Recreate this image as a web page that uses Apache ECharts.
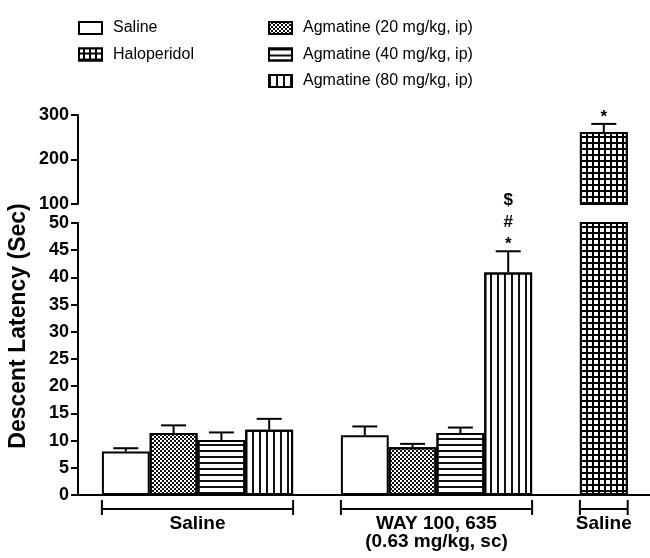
<!DOCTYPE html>
<html>
<head>
<meta charset="utf-8">
<script src="https://cdn.jsdelivr.net/npm/echarts@6/dist/echarts.min.js"></script>
<style>
html, body { margin: 0; padding: 0; background: #fff; }
#main { width: 650px; height: 558px; }
</style>
</head>
<body>
<div id="main"></div>
<script>
var groups = ['Saline', 'WAY 100, 635\n(0.63 mg/kg, sc)', 'Saline'];
var treatments = ['Saline', 'Haloperidol', 'Agmatine (20 mg/kg, ip)', 'Agmatine (40 mg/kg, ip)', 'Agmatine (80 mg/kg, ip)'];

// mean per group, null = not given in that group
var salineMean = [8.0, 11.0, null];
var haloMean   = [null, null, 262];
var agm20Mean  = [11.4, 8.8, null];
var agm40Mean  = [10.1, 11.4, null];
var agm80Mean  = [12.0, 40.9, null];

// SEM (upper half only drawn)
var salineSem = [0.6, 1.6, null];
var haloSem   = [null, null, 18];
var agm20Sem  = [1.4, 0.6, null];
var agm40Sem  = [1.4, 1.0, null];
var agm80Sem  = [2.0, 3.9, null];

// significance marks
var salineMarks = ['', '', ''];
var haloMarks   = ['', '', '*'];
var agm20Marks  = ['', '', ''];
var agm40Marks  = ['', '', ''];
var agm80Marks  = ['', '$\n#\n*', ''];

// broken y axis: lower and upper parts
var lowAxis  = [0, 50, 5];      // min, max, interval
var highAxis = [100, 300, 100];

var FONT = 'Liberation Sans, Arial, sans-serif';

var means = [salineMean, haloMean, agm20Mean, agm40Mean, agm80Mean];
var sems = [salineSem, haloSem, agm20Sem, agm40Sem, agm80Sem];
var marks = [salineMarks, haloMarks, agm20Marks, agm40Marks, agm80Marks];

// fill patterns
var styles = [
  { color: '#fff' },
  { color: '#000', decal: { symbol: 'rect', symbolSize: 1, color: '#fff', dashArrayX: [4, 2], dashArrayY: [4, 2] } },
  { color: '#fff', decal: { symbol: 'rect', symbolSize: 1, color: '#111', dashArrayX: [[2, 2], [0, 2, 2, 0]], dashArrayY: [2, 0] } },
  { color: '#fff', decal: { symbol: 'rect', symbolSize: 1, color: '#111', dashArrayX: [10, 0], dashArrayY: [2, 4] } },
  { color: '#fff', decal: { symbol: 'rect', symbolSize: 1, color: '#111', dashArrayX: [2, 5], dashArrayY: [10, 0] } }
];

// lay bars out in slots, one empty slot between groups
var bars = treatments.map(function () { return []; });
var errs = [];
var spans = [];
var slot = 0;
groups.forEach(function (g, gi) {
  var start = slot;
  treatments.forEach(function (t, ti) {
    var v = means[ti][gi];
    if (v == null) return;
    bars[ti].push([slot, v]);
    errs.push({ x: slot, m: v, e: sems[ti][gi], mark: marks[ti][gi] });
    slot++;
  });
  spans.push([start, slot - 1]);
  slot++;
});

function barStyle(ti) {
  var s = { color: styles[ti].color, borderColor: '#000', borderWidth: 2 };
  if (styles[ti].decal) s.decal = styles[ti].decal;
  return s;
}

function errSeries(idx, list) {
  return {
    type: 'custom', xAxisIndex: idx, yAxisIndex: idx, silent: true, z: 5,
    data: list.map(function (d) { return [d.x, d.m, d.e]; }),
    renderItem: function (params, api) {
      var d = list[params.dataIndex];
      var p0 = api.coord([d.x, d.m]);
      var p1 = api.coord([d.x, d.m + d.e]);
      var kids = [
        { type: 'line', shape: { x1: p0[0], y1: p0[1], x2: p1[0], y2: p1[1] }, style: { stroke: '#000', lineWidth: 2 } },
        { type: 'line', shape: { x1: p1[0] - 12.5, y1: p1[1], x2: p1[0] + 12.5, y2: p1[1] }, style: { stroke: '#000', lineWidth: 2 } }
      ];
      if (d.mark) {
        kids.push({ type: 'text', x: p1[0], y: p1[1] + 4, style: {
          text: d.mark, align: 'center', verticalAlign: 'bottom', fontSize: 17, fontWeight: 'bold',
          fontFamily: FONT, lineHeight: 22, fill: '#000' } });
      }
      return { type: 'group', children: kids };
    }
  };
}

var series = [];
treatments.forEach(function (t, ti) {
  series.push({
    type: 'bar', name: t, xAxisIndex: 0, yAxisIndex: 0,
    barGap: '-100%', barCategoryGap: '0%',
    data: bars[ti], itemStyle: barStyle(ti)
  });
  var tall = bars[ti].filter(function (d) { return d[1] > lowAxis[1]; });
  if (tall.length) {
    series.push({
      type: 'bar', name: t, xAxisIndex: 1, yAxisIndex: 1, barWidth: 47.8,
      data: tall, itemStyle: barStyle(ti)
    });
  }
});
series.push(errSeries(0, errs.filter(function (d) { return d.m + d.e <= lowAxis[1]; })));
series.push(errSeries(1, errs.filter(function (d) { return d.m > lowAxis[1]; })));

// group brackets under the x axis
series.push({
  type: 'custom', xAxisIndex: 0, yAxisIndex: 0, silent: true,
  data: spans,
  renderItem: function (params, api) {
    var a = api.coord([api.value(0), 0]);
    var b = api.coord([api.value(1), 0]);
    var half = api.size([1, 0])[0] / 2;
    var x1 = a[0] - half, x2 = b[0] + half, y = a[1] + 14;
    var ln = { stroke: '#000', lineWidth: 2 };
    return { type: 'group', children: [
      { type: 'line', shape: { x1: x1, y1: y, x2: x2, y2: y }, style: ln },
      { type: 'line', shape: { x1: x1, y1: y - 9, x2: x1, y2: y + 6 }, style: ln },
      { type: 'line', shape: { x1: x2, y1: y - 9, x2: x2, y2: y + 6 }, style: ln },
      { type: 'text', x: (x1 + x2) / 2, y: y + 6, style: {
        text: groups[params.dataIndex], align: 'center', verticalAlign: 'top',
        fontSize: 19, fontWeight: 'bold', fontFamily: FONT, lineHeight: 18, fill: '#000' } }
    ] };
  }
});

function yAxis(idx, rng) {
  return {
    type: 'value', gridIndex: idx, min: rng[0], max: rng[1], interval: rng[2],
    axisLine: { show: true, onZero: false, lineStyle: { color: '#000', width: 2 } },
    axisTick: { show: true, length: 7, lineStyle: { color: '#000', width: 2 } },
    axisLabel: { color: '#000', fontSize: 18, fontWeight: 'bold', fontFamily: FONT, margin: 9 },
    splitLine: { show: false }
  };
}

function xAxis(idx, showLine) {
  return {
    type: 'value', gridIndex: idx, min: -1, max: 11,
    axisLine: { show: showLine, onZero: false, lineStyle: { color: '#000', width: 2 } },
    axisTick: { show: false }, axisLabel: { show: false }, splitLine: { show: false }
  };
}

var legendBase = {
  orient: 'vertical', top: 15, itemWidth: 23, itemHeight: 12, itemGap: 10.5, icon: 'rect',
  selectedMode: false,
  itemStyle: { borderColor: '#000', borderWidth: 2 },
  textStyle: { color: '#000', fontSize: 16, fontFamily: FONT, padding: [0, 0, 0, 6] }
};

var myChart = echarts.init(document.getElementById('main'));
var option = {
  animation: false,
  backgroundColor: '#fff',
  legend: [
    Object.assign({}, legendBase, { left: 73, data: [treatments[0], treatments[1]] }),
    Object.assign({}, legendBase, { left: 263, data: [treatments[2], treatments[3], treatments[4]] })
  ],
  grid: [
    { left: 78, width: 573.6, top: 223, height: 272, containLabel: false, outerBoundsMode: 'none' },
    { left: 78, width: 573.6, top: 115, height: 89, containLabel: false, outerBoundsMode: 'none' }
  ],
  xAxis: [xAxis(0, true), xAxis(1, false)],
  yAxis: [yAxis(0, lowAxis), yAxis(1, highAxis)],
  graphic: [{
    type: 'text', x: 19, y: 326, rotation: Math.PI / 2,
    style: { text: 'Descent Latency (Sec)', align: 'center', verticalAlign: 'middle',
      fontSize: 23, fontWeight: 'bold', fontFamily: FONT, fill: '#000' }
  }],
  series: series
};
myChart.setOption(option);
</script>
</body>
</html>
